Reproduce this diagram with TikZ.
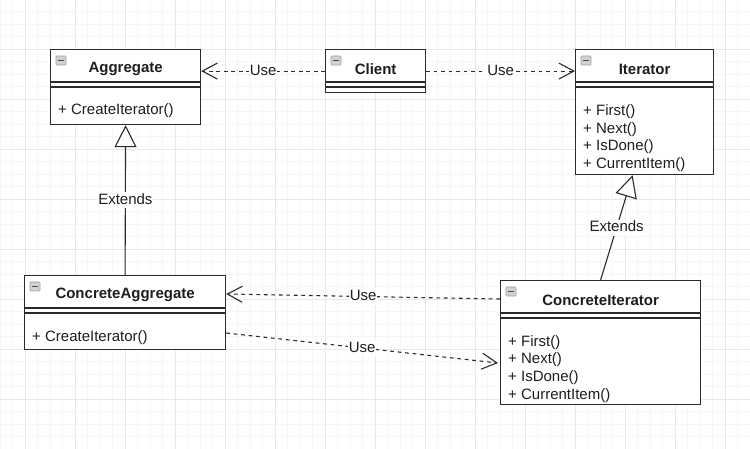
\documentclass[tikz,border=0pt]{standalone}
\usepackage{fontspec}
\setmainfont{Liberation Sans}
\usetikzlibrary{arrows.meta,calc}
\definecolor{gridminor}{HTML}{F6F6F6}
\definecolor{gridmajor}{HTML}{E8E8E8}
\definecolor{ink}{HTML}{1E1E1E}
\definecolor{linec}{HTML}{2B2B2B}
\tikzset{
  umlbox/.style={draw=linec, fill=white, line width=1.2pt, inner sep=0pt, anchor=north west},
  divline/.style={draw=linec, line width=1.2pt},
  ttl/.style={font=\fontsize{15}{18}\bfseries\selectfont, text=ink, inner sep=0pt},
  meth/.style={font=\fontsize{15}{18}\selectfont, text=ink, inner sep=0pt, anchor=west, text height=11pt, text depth=3pt},
  lbl/.style={font=\fontsize{15}{18}\selectfont, text=ink, fill=white, inner sep=1pt, text height=11pt, text depth=3pt},
  usearrow/.style={draw=linec, line width=1.1pt, dash pattern=on 3.75pt off 3.75pt, -{Straight Barb[length=15pt,width=16pt,line width=1.1pt]}},
  extarrow/.style={draw=linec, line width=1.1pt, -{Triangle[length=22pt,width=22pt,fill=white,line width=1.1pt]}},
  iconbox/.style={fill=gray!35, draw=gray!75, line width=0.6pt, rounded corners=0.8pt}
}
\newcommand{\umlhead}[3]{% name, width, title
  \draw[divline] ($(#1.north west)+(0,33)$) -- ++(#2,0);
  \draw[divline] ($(#1.north west)+(0,38)$) -- ++(#2,0);
  \draw[iconbox] ($(#1.north west)+(6,7)$) rectangle ++(10,9);
  \draw[black!70, line width=1pt] ($(#1.north west)+(8,11.5)$) -- ++(6,0);
  \node[ttl] (#1-title) at ($(#1.north)+(0,20)$) {#3};
}
\begin{document}
\begin{tikzpicture}[x=1pt,y=-1pt]
\useasboundingbox (0,0) rectangle (750,449);
\fill[white] (0,0) rectangle (750,449);
% grid
\foreach \i in {0,...,60} {
  \draw[gridminor, line width=0.6pt] (\i*12.5,0) -- (\i*12.5,449);
}
\foreach \i in {0,...,36} {
  \draw[gridminor, line width=0.6pt] (0,\i*12.5-1) -- (750,\i*12.5-1);
}
\foreach \i in {0,...,15} {
  \draw[gridmajor, line width=0.7pt] (25+\i*50,0) -- (25+\i*50,449);
}
\foreach \i in {0,...,9} {
  \draw[gridmajor, line width=0.7pt] (0,\i*50-1) -- (750,\i*50-1);
}

% Aggregate
\node[umlbox, minimum width=150pt, minimum height=75pt] (agg) at (50,49) {};
\umlhead{agg}{150}{Aggregate}
\node[meth] (agg-m1) at ($(agg.north west)+(8,62)$) {+ CreateIterator()};

% Client
\node[umlbox, minimum width=100pt, minimum height=43pt] (cli) at (325,49) {};
\umlhead{cli}{100}{Client}

% Iterator
\node[umlbox, minimum width=138pt, minimum height=125pt] (it) at (575,49) {};
\umlhead{it}{138}{Iterator}
\node[meth] (it-m1) at ($(it.north west)+(8,62.5)$) {+ First()};
\node[meth] (it-m2) at ($(it.north west)+(8,80.2)$) {+ Next()};
\node[meth] (it-m3) at ($(it.north west)+(8,97.9)$) {+ IsDone()};
\node[meth] (it-m4) at ($(it.north west)+(8,115.6)$) {+ CurrentItem()};

% ConcreteAggregate
\node[umlbox, minimum width=201pt, minimum height=74pt] (ca) at (24,275) {};
\umlhead{ca}{201}{ConcreteAggregate}
\node[meth] (ca-m1) at ($(ca.north west)+(8,62)$) {+ CreateIterator()};

% ConcreteIterator
\node[umlbox, minimum width=200pt, minimum height=124pt] (ci) at (500,280) {};
\umlhead{ci}{200}{ConcreteIterator}
\node[meth] (ci-m1) at ($(ci.north west)+(8,62)$) {+ First()};
\node[meth] (ci-m2) at ($(ci.north west)+(8,79.7)$) {+ Next()};
\node[meth] (ci-m3) at ($(ci.north west)+(8,97.4)$) {+ IsDone()};
\node[meth] (ci-m4) at ($(ci.north west)+(8,115.1)$) {+ CurrentItem()};

% connectors
\draw[usearrow] (cli.west) -- (agg.east |- cli.west) node[lbl, midway] {Use};
\draw[usearrow] (cli.east) -- (it.west |- cli.east) node[lbl, midway] {Use};
\draw[extarrow] (ca.north) -- (agg.south) node[lbl, midway] {Extends};
\draw[extarrow] (ci.north) -- ($(it.south)+(-12,0)$) node[lbl, midway] {Extends};
\draw[usearrow] ($(ci.north west)+(0,19)$) -- ($(ca.north east)+(0,19)$) node[lbl, midway] {Use};
\draw[usearrow] ($(ca.north east)+(0,58)$) -- ($(ci.north west)+(-2,83)$) node[lbl, midway] {Use};
\end{tikzpicture}
\end{document}
